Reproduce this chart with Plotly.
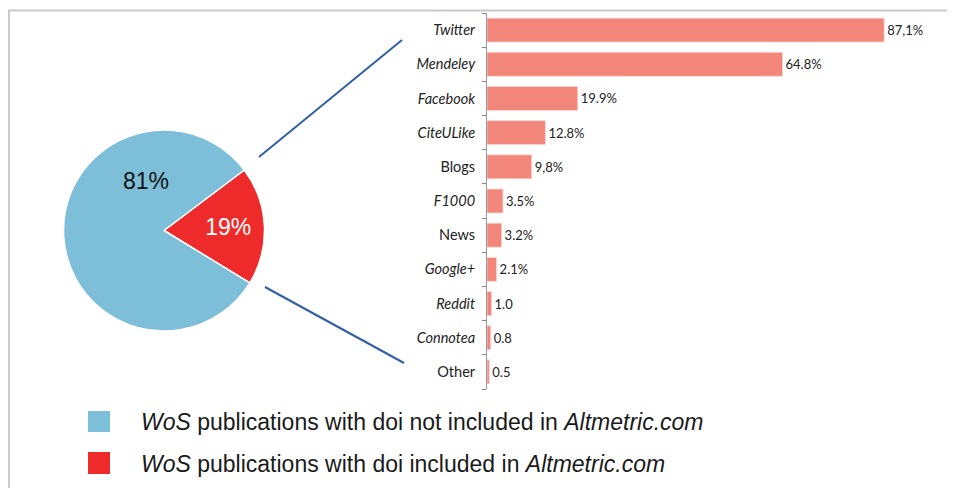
import plotly.graph_objects as go

# The page body has an 8px margin, so the figure is drawn 8px in from the top-left.
OFF = 8
W, H = 955 - OFF, 488 - OFF

# ---- data ----
pie_labels = ["<i>WoS</i> publications with doi included in <i>Altmetric.com</i>",
              "<i>WoS</i> publications with doi not included in <i>Altmetric.com</i>"]
pie_values = [19, 81]
pie_text = ["19%", "81%"]

categories = ["Twitter", "Mendeley", "Facebook", "CiteULike", "Blogs", "F1000",
              "News", "Google+", "Reddit", "Connotea", "Other"]
bar_values = [87.1, 64.8, 19.9, 12.8, 9.8, 3.5, 3.2, 2.1, 1.0, 0.8, 0.5]
bar_text = ["87,1%", "64.8%", "19.9%", "12.8%", "9,8%", "3.5%", "3.2%", "2.1%", "1.0", "0.8", "0.5"]
upright = {"Blogs", "News", "Other"}

BLUE = "#7dbfd8"
RED = "#ee2a2a"
SALMON = "#f2867a"


def px(x):
    return (x - OFF) / W


def py(y):
    return 1 - (y - OFF) / H


ticktext = [c if c in upright else f"<i>{c}</i>" for c in categories]

fig = go.Figure()

fig.add_trace(go.Pie(
    labels=pie_labels, values=pie_values, text=[pie_text[0], ""],
    textinfo="text", textposition="inside", insidetextorientation="horizontal",
    sort=False, direction="clockwise", rotation=53,
    marker=dict(colors=[RED, BLUE], line=dict(color="white", width=1.5)),
    textfont=dict(family="Liberation Sans, Arial", size=23, color="white"),
    domain=dict(x=[px(63), px(265)], y=[py(331), py(130)]),
    showlegend=False, hoverinfo="label+percent",
))

fig.add_trace(go.Bar(
    x=bar_values, y=categories, orientation="h",
    text=bar_text, textposition="outside", cliponaxis=False,
    textfont=dict(family="Lato, Open Sans, sans-serif", size=13, color="#222"),
    marker=dict(color=SALMON, line=dict(color="#fbd5cf", width=0.8)),
    showlegend=False,
))

fig.update_layout(
    width=W, height=H,
    margin=dict(l=0, r=0, t=0, b=0),
    paper_bgcolor="white", plot_bgcolor="white",
    bargap=0.3,
    xaxis=dict(domain=[px(487), 1], range=[0, (955 - 487) / 4.56],
               visible=False, fixedrange=True),
    yaxis=dict(domain=[py(389), py(13)], autorange="reversed",
               tickmode="array", tickvals=categories, ticktext=ticktext,
               tickson="boundaries", ticks="outside", ticklen=4,
               ticklabelstandoff=8,
               tickcolor="#888", showline=True, linecolor="#999", linewidth=1,
               tickfont=dict(family="Lato, Open Sans, sans-serif", size=14.5, color="#222"),
               showgrid=False, fixedrange=True),
)

shapes = [
    # frame lines
    dict(type="line", xref="paper", yref="paper", x0=px(8), x1=1, y0=py(10.5), y1=py(10.5),
         line=dict(color="#c9c9cf", width=2)),
    dict(type="line", xref="paper", yref="paper", x0=px(9), x1=px(9), y0=py(10), y1=0,
         line=dict(color="#c9c9cf", width=2)),
    # connector lines
    dict(type="line", xref="paper", yref="paper", x0=px(259), y0=py(157), x1=px(402), y1=py(40),
         line=dict(color="#2f5fa8", width=2)),
    dict(type="line", xref="paper", yref="paper", x0=px(265), y0=py(287), x1=px(404), y1=py(363),
         line=dict(color="#2f5fa8", width=2)),
    # legend swatches
    dict(type="rect", xref="paper", yref="paper", x0=px(88), x1=px(110), y0=py(432), y1=py(411),
         fillcolor=BLUE, line=dict(width=0)),
    dict(type="rect", xref="paper", yref="paper", x0=px(88), x1=px(110), y0=py(474), y1=py(452),
         fillcolor=RED, line=dict(width=0)),
]
fig.update_layout(shapes=shapes)

annotations = [
    dict(xref="paper", yref="paper", x=px(146), y=py(181), xanchor="center", yanchor="middle",
         text=pie_text[1], showarrow=False,
         font=dict(family="Liberation Sans, Arial", size=23, color="#111")),
    dict(xref="paper", yref="paper", x=px(139), y=py(421.5), xanchor="left", yanchor="middle",
         text=pie_labels[1], showarrow=False,
         font=dict(family="Liberation Sans, Arial", size=23, color="#1a1a1a")),
    dict(xref="paper", yref="paper", x=px(139), y=py(463.5), xanchor="left", yanchor="middle",
         text=pie_labels[0], showarrow=False,
         font=dict(family="Liberation Sans, Arial", size=23, color="#1a1a1a")),
]
fig.update_layout(annotations=annotations)

fig.write_html("out.html")
